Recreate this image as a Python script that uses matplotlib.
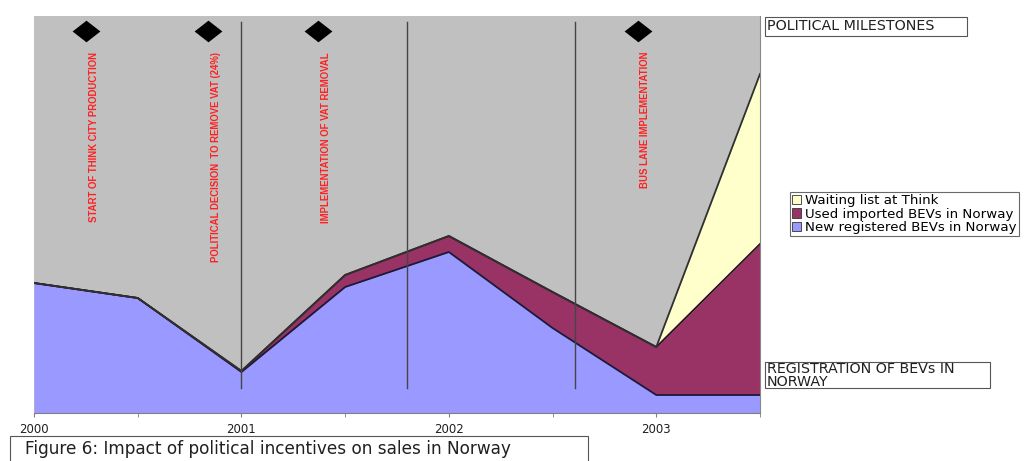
import matplotlib
matplotlib.use("Agg")
import matplotlib.pyplot as plt
from matplotlib import font_manager
from matplotlib.patches import Rectangle, Patch
import numpy as np

# ---- data (heights in chart units) ----
periods = [2000.0, 2000.5, 2001.0, 2001.5, 2002.0, 2002.5, 2003.0, 2003.5]
new_registered = [130, 115, 41, 126, 161, 85, 18, 18]
used_imported = [0, 0, 1, 12, 16, 36, 48, 151]
waiting_list = [0, 0, 0, 0, 0, 0, 0, 170]

milestone_x = [2000.25, 2000.84, 2001.37, 2002.91]
milestone_labels = ["START OF THINK CITY PRODUCTION",
                    "POLITICAL DECISION  TO REMOVE VAT (24%)",
                    "IMPLEMENTATION OF VAT REMOVAL",
                    "BUS LANE IMPLEMENTATION"]
divider_x = [2001.0, 2001.8, 2002.61]
year_ticks = [2000, 2001, 2002, 2003]
year_labels = ["2000", "2001", "2002", "2003"]
half_ticks = [2000.5, 2001.5, 2002.5, 2003.5]

series_names = ["Waiting list at Think", "Used imported BEVs in Norway",
                "New registered BEVs in Norway"]

avail = {f.name for f in font_manager.fontManager.ttflist}
red_font = "Liberation Sans" if "Liberation Sans" in avail else "DejaVu Sans"
plt.rcParams["font.family"] = ["DejaVu Sans"]

W, H = 1026, 461
fig = plt.figure(figsize=(W / 100, H / 100), dpi=100)
fig.patch.set_facecolor("white")

def px(x0, y0, x1, y1):
    return [x0 / W, 1 - y1 / H, (x1 - x0) / W, (y1 - y0) / H]

ax = fig.add_axes(px(34, 16, 760, 413))
ax.set_facecolor("#C0C0C0")
ax.set_xlim(2000, 2003.5)
ax.set_ylim(0, 397)

x = np.array(periods)
b = np.array(new_registered, float)
m = b + np.array(used_imported, float)
w = m + np.array(waiting_list, float)

ax.fill_between(x, 0, b, color="#9999FF", lw=0, zorder=2)
ax.fill_between(x, b, m, color="#993366", lw=0, zorder=2)
ax.fill_between(x, m, w, color="#FFFFCC", lw=0, zorder=2)
ax.plot(x, b, color="#1a1a3a", lw=1.3, zorder=3)
ax.plot(x, m, color="#2a1020", lw=1.3, zorder=3)
ax.plot(x, w, color="#303030", lw=1.3, zorder=3)

for dx in divider_x:
    ax.plot([dx, dx], [25, 391], color="#454545", lw=1.0, zorder=4)

diamond = [(-1, 0), (0, 0.78), (1, 0), (0, -0.78), (-1, 0)]
ax.scatter(milestone_x, [381.5] * len(milestone_x), marker=diamond, s=400,
           color="black", lw=0, zorder=5)
for mx, lab in zip(milestone_x, milestone_labels):
    ax.text(mx + 0.037, 361, lab, rotation=90, ha="center", va="top",
            color="#FF2020", fontsize=6.9, fontweight="bold",
            family=[red_font, "DejaVu Sans"], zorder=5)

for s in ["left", "top"]:
    ax.spines[s].set_visible(False)
ax.spines["right"].set_color("#888888")
ax.spines["bottom"].set_color("#808080")
ax.set_yticks([])
ax.set_xticks(year_ticks)
ax.set_xticklabels(year_labels, fontsize=8.5, color="#202020")
ax.set_xticks(half_ticks, minor=True)
ax.tick_params(axis="x", which="both", direction="out", length=3,
               color="#808080", pad=4)

handles = [Patch(facecolor="#FFFFCC", edgecolor="#333333", lw=0.6),
           Patch(facecolor="#993366", edgecolor="#333333", lw=0.6),
           Patch(facecolor="#9999FF", edgecolor="#333333", lw=0.6)]
leg = fig.legend(handles, series_names, loc="upper left",
                 bbox_to_anchor=(790 / W, 1 - 192 / H), fontsize=9.6,
                 frameon=True, fancybox=False, handlelength=0.7,
                 handleheight=0.7, handletextpad=0.3, borderpad=0.15,
                 labelspacing=0.05, borderaxespad=0)
leg.get_frame().set_edgecolor("#444444")
leg.get_frame().set_linewidth(0.8)

def boxed_text(x0, y0, x1, y1, txt, fs, tx, ty):
    fig.patches.append(Rectangle((x0 / W, 1 - y1 / H), (x1 - x0) / W,
                                 (y1 - y0) / H, transform=fig.transFigure,
                                 facecolor="white", edgecolor="#555555",
                                 lw=0.8))
    fig.text(tx / W, 1 - ty / H, txt, fontsize=fs, ha="left", va="top",
             linespacing=0.88, color="#202020")

boxed_text(765, 17, 967, 36, "POLITICAL MILESTONES", 10.3, 767, 19)
boxed_text(765, 362, 990, 388, "REGISTRATION OF BEVs IN\nNORWAY", 10.3, 767, 362)
boxed_text(10, 436, 588, 470, "Figure 6: Impact of political incentives on sales in Norway",
           12.2, 25, 440)

fig.savefig("out.png", dpi=100)
